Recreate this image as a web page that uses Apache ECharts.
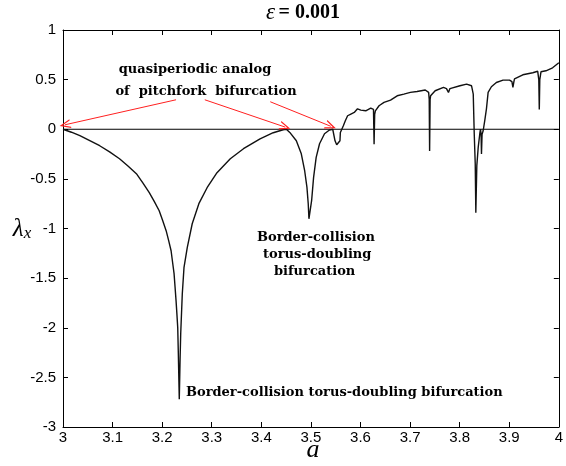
<!DOCTYPE html>
<html><head><meta charset="utf-8">
<script src="https://cdn.jsdelivr.net/npm/echarts@6/dist/echarts.min.js"></script>
<style>html,body{margin:0;padding:0;background:#fff}#c{width:566px;height:466px}</style>
</head><body><div id="c"></div>
<script>
// parameter a
const aValues = [3.0,3.017,3.034,3.054,3.074,3.094,3.114,3.131,3.148,3.161,3.174,3.184,3.194,3.201,3.208,3.213,3.218,3.221,3.224,3.226,3.228,3.2297,3.2314,3.2326,3.234,3.2345,3.235,3.2362,3.2374,3.2406,3.244,3.2506,3.2606,3.274,3.2906,3.3106,3.3374,3.364,3.3974,3.424,3.444,3.4505,
3.4574,3.4706,3.4806,3.4874,3.492,3.4946,3.496,3.498,3.5,3.5014,3.5054,3.5106,3.5174,3.5274,3.5374,3.544,
3.5486,3.552,3.556,3.5586,3.5594,3.5626,3.5654,3.5694,3.574,3.5806,3.5874,3.594,3.6006,3.6106,3.6206,3.624,3.6262,3.6274,3.6286,3.63,
3.6374,3.6474,3.6606,3.674,3.6874,3.7006,3.714,3.7306,3.7374,3.7386,3.7394,3.7404,3.7414,3.744,3.7506,3.7674,3.7734,3.7774,3.7804,3.784,3.8006,3.814,3.824,3.8274,3.8294,3.8314,3.8326,3.8346,3.8374,3.8406,3.842,3.8432,3.844,3.8452,3.8474,3.8506,3.854,3.8574,3.864,3.874,3.8874,3.9006,3.9054,3.9074,3.9094,3.9106,3.9274,3.9474,3.9574,3.9596,3.9606,3.9616,3.964,3.974,3.9874,4.0];
// Lyapunov exponent lambda_x
const lambdaValues = [0.0,-0.03,-0.065,-0.115,-0.166,-0.228,-0.297,-0.37,-0.448,-0.54,-0.639,-0.726,-0.821,-0.92,-1.022,-1.12,-1.224,-1.34,-1.455,-1.59,-1.727,-1.86,-1.999,-2.26,-2.6,-2.72,-2.6,-2.3,-2.06,-1.657,-1.395,-1.193,-0.952,-0.75,-0.589,-0.438,-0.297,-0.196,-0.096,-0.035,-0.005,0.0,
-0.032,-0.116,-0.247,-0.418,-0.586,-0.75,-0.902,-0.915,-0.902,-0.72,-0.485,-0.284,-0.146,-0.045,-0.008,0.0,
-0.116,-0.156,-0.166,-0.116,-0.032,-0.015,0.035,0.086,0.136,0.153,0.169,0.206,0.193,0.186,0.213,0.22,0.2,-0.15,0.15,0.186,
0.237,0.27,0.294,0.337,0.354,0.371,0.381,0.395,0.371,0.3,-0.22,0.3,0.337,0.357,0.388,0.421,0.41,0.371,0.41,0.421,0.438,0.455,0.438,0.354,-0.045,-0.347,-0.84,-0.367,-0.183,-0.045,0.002,-0.05,-0.25,-0.05,-0.015,0.086,0.206,0.371,0.428,0.471,0.495,0.495,0.48,0.421,0.48,0.508,0.549,0.569,0.584,0.5,0.2,0.5,0.579,0.589,0.619,0.67];
const xTicks = [3,3.1,3.2,3.3,3.4,3.5,3.6,3.7,3.8,3.9,4];
const yTicks = [-3,-2.5,-2,-1.5,-1,-0.5,0,0.5,1];
// arrows: start / end points in data units
const arrowStarts = [[3.228,0.297],[3.286,0.297],[3.418,0.277]];
const arrowEnds = [[3.004,0.045],[3.448,0.022],[3.54,0.03]];

const curve = aValues.map((a,i)=>[a, lambdaValues[i]]);
const chart = echarts.init(document.getElementById('c'), null, {renderer:'canvas'});
const serif = '"Liberation Serif", "DejaVu Serif", serif';
const wserif = '"DejaVu Serif", "Liberation Serif", serif';
const sans = '"Liberation Sans", Arial, sans-serif';
const axBase = {type:'value', min:xTicks[0], max:xTicks[xTicks.length-1], interval:0.1, splitLine:{show:false},
  axisLine:{onZero:false, lineStyle:{color:'#000', width:1}}, axisTick:{inside:true, length:5, lineStyle:{color:'#000'}}};
const ayBase = {type:'value', min:yTicks[0], max:yTicks[yTicks.length-1], interval:0.5, splitLine:{show:false},
  axisLine:{onZero:false, lineStyle:{color:'#000', width:1}}, axisTick:{inside:true, length:5, lineStyle:{color:'#000'}}};
const ann = (x,y,text,align)=>({type:'text', x:x, y:y, style:{text:text, align:align||'left', verticalAlign:'middle', fontFamily:wserif, fontWeight:'bold', fontSize:13, fill:'#000'}});
chart.setOption({
  animation:false,
  backgroundColor:'#fff',
  grid:{left:63, right:3, top:30, bottom:39},
  xAxis:[
    Object.assign({}, axBase, {position:'bottom', axisLabel:{color:'#000', fontFamily:sans, fontSize:15, margin:3}}),
    Object.assign({}, axBase, {position:'top', axisLabel:{show:false}})
  ],
  yAxis:[
    Object.assign({}, ayBase, {position:'left', axisLabel:{color:'#000', fontFamily:sans, fontSize:15, margin:7}}),
    Object.assign({}, ayBase, {position:'right', axisLabel:{show:false}})
  ],
  series:[
    {type:'line', data:[[3,0],[4,0]], showSymbol:false, lineStyle:{color:'#000', width:1}, silent:true, z:1},
    {type:'line', data:curve, showSymbol:false, lineStyle:{color:'#111', width:1.4}, silent:true, z:2,
     markLine:{silent:true, animation:false, symbol:['none','path://M5,0 L10,9 L8.6,9 L5,2.6 L1.4,9 L0,9 Z'], symbolSize:[9,11],
       lineStyle:{color:'#ff2020', width:1, type:'solid'}, label:{show:false},
       data: arrowStarts.map((s,i)=>[{coord:s},{coord:arrowEnds[i]}])}}
  ],
  graphic:[
    {type:'text', x:303, y:13, style:{text:'{e|ε} {b|= 0.001}', align:'center', verticalAlign:'middle',
      rich:{e:{fontFamily:serif, fontStyle:'italic', fontSize:23, fill:'#000'}, b:{fontFamily:serif, fontWeight:'bold', fontSize:20, fill:'#000'}}}},
    {type:'text', x:22, y:229, style:{text:'{l|λ}{s|x}', align:'center', verticalAlign:'middle',
      rich:{l:{fontFamily:serif, fontStyle:'italic', fontSize:25, fill:'#000'}, s:{fontFamily:serif, fontStyle:'italic', fontSize:17, fill:'#000', padding:[10,0,0,0]}}}},
    {type:'text', x:313, y:450, style:{text:'a', align:'center', verticalAlign:'middle', fontFamily:serif, fontStyle:'italic', fontSize:26, fill:'#000'}},
    ann(195,70,'quasiperiodic analog','center'),
    ann(206,92,'of  pitchfork  bifurcation','center'),
    ann(257,238,'Border-collision'),
    ann(263,255,'torus-doubling'),
    ann(274,272,'bifurcation'),
    ann(186,393,'Border-collision torus-doubling bifurcation')
  ]
});
</script></body></html>
